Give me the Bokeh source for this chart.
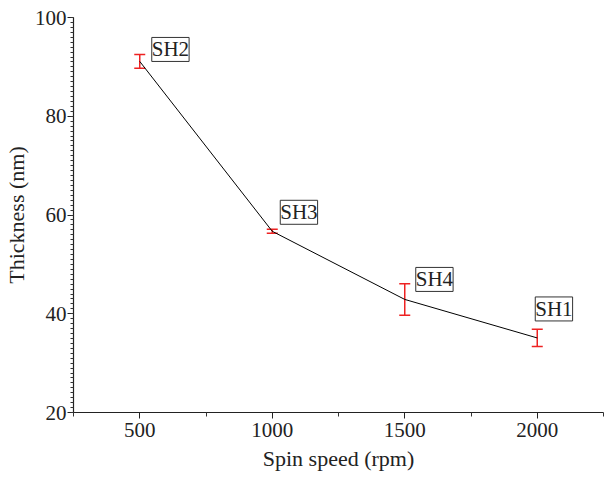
from bokeh.plotting import figure
from bokeh.models import ColumnDataSource, Whisker, TeeHead, FixedTicker, SingleIntervalTicker, Label, Range1d
from bokeh.embed import file_html
from bokeh.resources import INLINE

speed = [500, 1000, 1500, 2000]
thickness = [91.1, 56.7, 42.9, 35.1]
err = [1.4, 0.4, 3.2, 1.75]
names = ["SH2", "SH3", "SH4", "SH1"]

x_ticks = [500, 1000, 1500, 2000]
y_tick_step = 20

FONT = "Liberation Serif"

src = ColumnDataSource(dict(
    x=speed, y=thickness,
    lo=[t - e for t, e in zip(thickness, err)],
    hi=[t + e for t, e in zip(thickness, err)],
))

p = figure(width=604, height=477, output_backend="svg", toolbar_location=None,
           x_range=Range1d(250, 2250), y_range=Range1d(20, 100),
           min_border_left=73, min_border_right=1, min_border_top=17, min_border_bottom=65)
p.outline_line_color = None
p.xgrid.visible = False
p.ygrid.visible = False

p.line("x", "y", source=src, line_color="black", line_width=1)
w = Whisker(base="x", lower="lo", upper="hi", source=src, line_color="#ee2222", line_width=1.5,
            upper_head=TeeHead(size=11, line_color="#ee2222", line_width=1.5),
            lower_head=TeeHead(size=11, line_color="#ee2222", line_width=1.5))
p.add_layout(w)

offsets = [(12, 0), (8, 7), (11, 8), (-2, 17)]
for x, y, n, (dx, dy) in zip(speed, thickness, names, offsets):
    p.add_layout(Label(x=x, y=y, text=n, x_offset=dx, y_offset=dy,
                       text_font=FONT, text_font_size="21px", text_color="#222222",
                       border_line_color="#333333", border_line_width=1,
                       background_fill_color="white", padding=0))

p.xaxis.ticker = FixedTicker(ticks=x_ticks, minor_ticks=[250.0, 750.0, 1250.0, 1750.0, 2250.0])
p.yaxis.ticker = SingleIntervalTicker(interval=y_tick_step, num_minor_ticks=20)

for ax in (p.xaxis[0], p.yaxis[0]):
    ax.axis_line_color = "#222222"
    ax.axis_line_width = 1.2
    ax.major_tick_line_color = "#222222"
    ax.minor_tick_line_color = "#333333"
    ax.minor_tick_line_width = 1
    ax.major_tick_in = 0
    ax.minor_tick_in = 0
    ax.major_label_text_font = FONT
    ax.major_label_text_font_size = "21px"
    ax.major_label_text_color = "#222222"
    ax.axis_label_text_font = FONT
    ax.axis_label_text_font_size = "22px"
    ax.axis_label_text_font_style = "normal"
    ax.axis_label_text_color = "#222222"

p.xaxis.major_tick_out = 6
p.xaxis.minor_tick_out = 4
p.yaxis.major_tick_out = 6
p.yaxis.minor_tick_out = 3
p.xaxis.major_label_standoff = 4
p.yaxis.major_label_standoff = 1
p.xaxis.axis_label = "Spin speed (rpm)"
p.yaxis.axis_label = "Thickness (nm)"
p.xaxis.axis_label_standoff = 6
p.yaxis.axis_label_standoff = 3

open("out.html", "w").write(file_html(p, INLINE))
